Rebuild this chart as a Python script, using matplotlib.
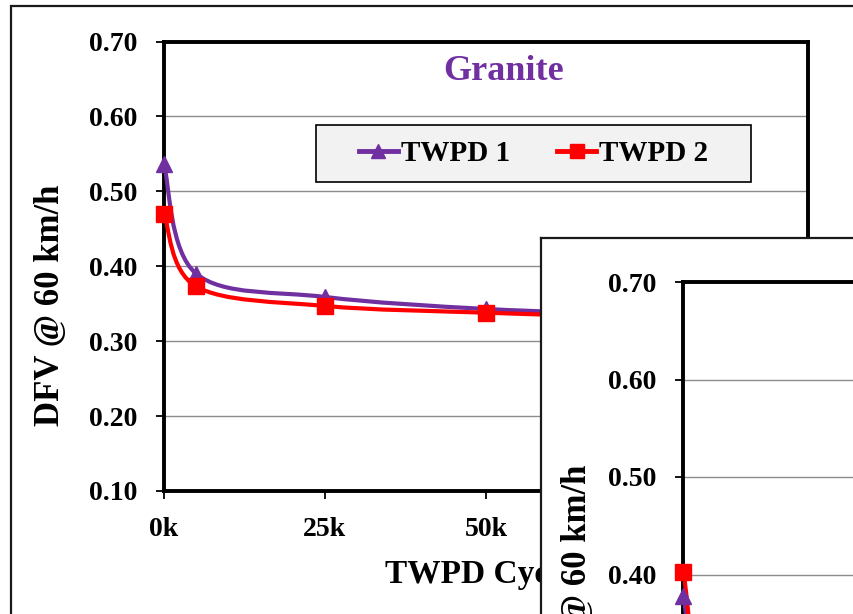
import numpy as np
import matplotlib
matplotlib.use("Agg")
import matplotlib.pyplot as plt
from matplotlib.path import Path
from matplotlib.patches import PathPatch, Rectangle
from matplotlib.lines import Line2D
from matplotlib.ticker import FuncFormatter

plt.rcParams['font.family'] = ['Liberation Serif', 'DejaVu Serif']
plt.rcParams['font.weight'] = 'bold'

# Granite chart
cycles = [0, 5000, 25000, 50000, 75000, 100000]
twpd1 = [0.536, 0.390, 0.359, 0.343, 0.336, 0.332]
twpd2 = [0.470, 0.373, 0.347, 0.338, 0.332, 0.329]

# second chart, almost all of it is cut off by the screenshot
cycles_b = [0, 5000, 25000, 50000, 75000, 100000]
twpd1_b = [0.378, 0.215, 0.190, 0.180, 0.175, 0.170]
twpd2_b = [0.403, 0.225, 0.200, 0.190, 0.185, 0.180]

y_ticks = [0.10, 0.20, 0.30, 0.40, 0.50, 0.60, 0.70]
x_ticks = [0, 25000, 50000, 75000, 100000]

PURPLE = '#7030A0'
RED = '#FF0000'
W, H = 854, 614


def smooth_path(x, y):
    # Excel style smoothed line: cubic bezier through the points
    pts = np.column_stack([x, y]).astype(float)
    n = len(pts)
    verts = [pts[0]]
    codes = [Path.MOVETO]
    for i in range(n - 1):
        p0 = pts[i - 1] if i > 0 else pts[i]
        p1 = pts[i]
        p2 = pts[i + 1]
        p3 = pts[i + 2] if i + 2 < n else pts[i + 1]
        verts += [p1 + (p2 - p0) / 6, p2 - (p3 - p1) / 6, p2]
        codes += [Path.CURVE4] * 3
    return Path(verts, codes)


def draw_series(ax, x, y, color, marker, ms):
    ax.add_patch(PathPatch(smooth_path(x, y), facecolor='none',
                           edgecolor=color, lw=3, zorder=3))
    ax.plot(x, y, linestyle='none', marker=marker, color=color,
            markersize=ms, zorder=4, clip_on=False)


def style_axes(ax):
    ax.set_ylim(0.10, 0.70)
    ax.set_xlim(0, 100000)
    ax.set_yticks(y_ticks)
    ax.set_xticks(x_ticks)
    ax.yaxis.set_major_formatter(FuncFormatter(lambda v, p: f'{v:.2f}'))
    ax.xaxis.set_major_formatter(FuncFormatter(lambda v, p: f'{int(v / 1000)}k'))
    ax.grid(axis='y', color='#8c8c8c', lw=1.0)
    ax.set_axisbelow(True)
    for s in ax.spines.values():
        s.set_linewidth(2.8)
        s.set_color('black')
    ax.tick_params(axis='both', direction='out', length=6, width=1.3,
                   labelsize=20, pad=13)


def px(x0, y0, x1, y1):
    # pixel box -> figure fraction [left, bottom, width, height]
    return [x0 / W, 1 - y1 / H, (x1 - x0) / W, (y1 - y0) / H]


fig = plt.figure(figsize=(8.54, 6.14), dpi=100)

# outer chart area border (crop of a bigger picture)
fig.add_artist(Rectangle((11 / W, -0.3), 1.5, 1.3 - 6 / H, transform=fig.transFigure,
                         fill=False, edgecolor='#1a1a1a', lw=1.6, zorder=0))

ax = fig.add_axes(px(164, 41.5, 808, 491))
style_axes(ax)
draw_series(ax, cycles, twpd1, PURPLE, '^', 11)
draw_series(ax, cycles, twpd2, RED, 's', 11)

ax.text((504 - 164) / 644, (491 - 71) / 449.5, 'Granite', transform=ax.transAxes,
        ha='center', va='center', fontsize=26, color=PURPLE)

# legend box
ax.add_patch(Rectangle(((316 - 164) / 644, (491 - 182) / 449.5), 435 / 644, 57 / 449.5,
                       transform=ax.transAxes, facecolor='#f2f2f2', edgecolor='black',
                       lw=1.2, zorder=5))
handles = [Line2D([], [], color=PURPLE, lw=3.5, marker='^', markersize=10),
           Line2D([], [], color=RED, lw=3.5, marker='s', markersize=10)]
leg = ax.legend(handles, ['TWPD 1', 'TWPD 2'], ncol=2, frameon=False,
                loc='center', bbox_to_anchor=((533.5 - 164) / 644, (491 - 153.5) / 449.5),
                fontsize=21, handlelength=1.35, handletextpad=0.1, columnspacing=1.6)
leg.set_zorder(6)

fig.text(51 / W, 1 - 305 / H, 'DFV @ 60 km/h', rotation=90, ha='center', va='center',
         fontsize=25, zorder=1)
fig.text(486 / W, 1 - 574 / H, 'TWPD Cycles', ha='center', va='center', fontsize=24,
         zorder=1)

# second chart lying on top
panel = fig.add_axes(px(541, 238, 1100, 900), zorder=2)
panel.set_xticks([])
panel.set_yticks([])
panel.set_facecolor('white')
for s in panel.spines.values():
    s.set_linewidth(1.6)
    s.set_color('#1a1a1a')

ax2 = fig.add_axes(px(683, 282, 683 + 838, 282 + 585), zorder=3)
style_axes(ax2)
draw_series(ax2, cycles_b, twpd1_b, PURPLE, '^', 12)
draw_series(ax2, cycles_b, twpd2_b, RED, 's', 12)
fig.text(578 / W, 1 - 585 / H, 'DFV @ 60 km/h', rotation=90, ha='center', va='center',
         fontsize=25, zorder=4)

fig.savefig('out.png', dpi=100)
